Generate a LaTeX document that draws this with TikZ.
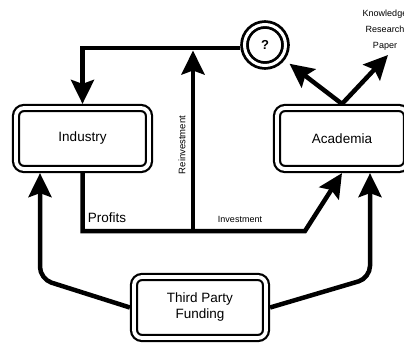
\documentclass[tikz,border=0pt]{standalone}
\usepackage{fontspec}
\setmainfont{Liberation Sans}
\usetikzlibrary{arrows.meta,backgrounds}
\begin{document}
\begin{tikzpicture}[x=1pt,y=-1pt,
  dbox/.style={draw, fill=white, line width=2.2pt, double=white, double distance=3.8pt,
    rounded corners=8pt, minimum height=61pt, inner sep=0pt, outer sep=4.1pt,
    font=\fontsize{13.5}{16}\selectfont, align=center},
  qcirc/.style={circle, draw, fill=white, line width=2.8pt, double=white, double distance=3pt,
    minimum size=41pt, inner sep=0pt, outer sep=4.3pt, font=\bfseries\fontsize{13}{15}\selectfont},
  conn/.style={line width=4.5pt},
  arr/.style={conn, -{Stealth[length=24pt,width=23pt,inset=4pt]}},
  big/.style={font=\fontsize{13.5}{16}\selectfont, inner sep=0pt},
  small/.style={font=\fontsize{9}{11}\selectfont, inner sep=0pt}]
\useasboundingbox (0,0) rectangle (404,343);
\node[dbox, minimum width=133pt] (ind) at (82.5,138.5) {Industry};
\node[dbox, minimum width=130pt] (aca) at (342,138.5) {Academia};
\node[dbox, minimum width=132pt] (tpf) at (200,307.5) {Third Party\\Funding};
\node[qcirc] (q) at (265,45) {?};
\node[big] (prof) at (107,218) {Profits};
\node[small] (inv) at (240,219) {Investment};
\node[small, rotate=90, font=\fontsize{9.5}{11}\selectfont] (rei) at (182,145) {Reinvestment};
\node[small, align=center, font=\fontsize{9}{16}\selectfont] (kn) at (385,30) {Knowledge\\Research\\Paper};
\coordinate (tl) at (82.5,48);
\coordinate (rb) at (193,231);
\coordinate (rt) at (193,50.5);
\coordinate (pc) at (82.5,231);
\coordinate (ib) at (305,231);
\coordinate (pp) at (388,55);
\coordinate (lf) at (40,279);
\coordinate (rf) at (370,278);
\begin{scope}[on background layer]
\draw[arr] (q.west |- tl) -- (tl) -- (ind.north);
\draw[arr] (rb) -- (rt);
\draw[arr] (ind.south) -- (pc) -- (ib) -- (aca.south);
\draw[arr, shorten >=6pt] (aca.north) -- (q);
\draw[arr] (aca.north) -- (pp);
\draw[arr, rounded corners=12pt] (tpf.west) -- (lf) -- (lf |- ind.south);
\draw[arr, rounded corners=12pt] (tpf.east) -- (rf) -- (rf |- aca.south);
\end{scope}
\end{tikzpicture}
\end{document}
